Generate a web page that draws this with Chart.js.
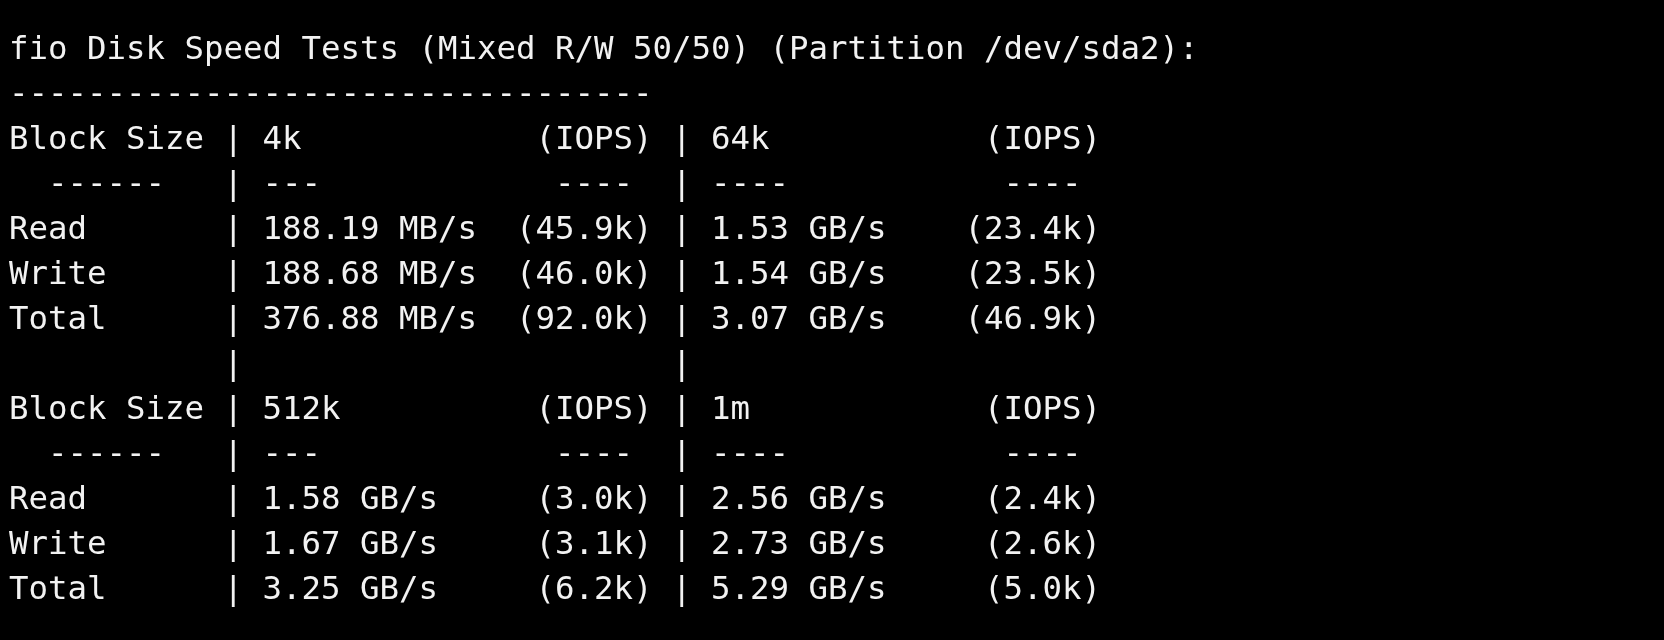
<!DOCTYPE html>
<html><head><meta charset="utf-8">
<script src="https://cdn.jsdelivr.net/npm/chart.js@4"></script>
<style>
html,body{margin:0;padding:0;background:#000;width:1664px;height:640px;overflow:hidden}
#wrap{position:relative;width:1664px;height:640px}
canvas{position:absolute;left:0;top:0}
pre{position:absolute;left:9px;top:26px;margin:0;color:#f2f2f2;font-family:"DejaVu Sans Mono",monospace;font-size:32.4px;line-height:45px;white-space:pre}
</style></head><body>
<div id="wrap"><canvas id="c" width="1664" height="640"></canvas><pre id="t"></pre></div>
<script>
const title = "fio Disk Speed Tests (Mixed R/W 50/50) (Partition /dev/sda2):";
const blockSizes = [["4k","64k"],["512k","1m"]];
const rowLabels = ["Read","Write","Total"];
const speeds = [[["188.19 MB/s","1.53 GB/s"],["188.68 MB/s","1.54 GB/s"],["376.88 MB/s","3.07 GB/s"]],
                [["1.58 GB/s","2.56 GB/s"],["1.67 GB/s","2.73 GB/s"],["3.25 GB/s","5.29 GB/s"]]];
const iops = [[["(45.9k)","(23.4k)"],["(46.0k)","(23.5k)"],["(92.0k)","(46.9k)"]],
              [["(3.0k)","(2.4k)"],["(3.1k)","(2.6k)"],["(6.2k)","(5.0k)"]]];

function pad(s,n){return (s+" ".repeat(n)).slice(0,n);}
function lpad(s,n){return (" ".repeat(n)+s).slice(-n);}
function cell(a,b){return pad(a,13)+lpad(b,7);}
const lines=[title,"-".repeat(33)];
blockSizes.forEach((bs,g)=>{
  if(g>0) lines.push(" ".repeat(11)+"|"+" ".repeat(22)+"|");
  lines.push("Block Size | "+pad(bs[0],14)+"(IOPS) | "+pad(bs[1],14)+"(IOPS)");
  lines.push("  ------   | ---            ----  | ----           ----");
  rowLabels.forEach((r,i)=>{
    lines.push(pad(r,11)+"| "+cell(speeds[g][i][0],iops[g][i][0])+" | "+cell(speeds[g][i][1],iops[g][i][1]));
  });
});
document.getElementById('t').textContent=lines.join("\n");

new Chart(document.getElementById('c'),{
  type:'bar',
  data:{labels:[],datasets:[]},
  options:{responsive:false,animation:false,plugins:{legend:{display:false},tooltip:{enabled:false}},
    scales:{x:{display:false},y:{display:false}}},
  plugins:[{id:'bg',beforeDraw(ch){const c=ch.ctx;c.save();c.fillStyle='#000';c.fillRect(0,0,ch.width,ch.height);c.restore();}}]
});
</script></body></html>
